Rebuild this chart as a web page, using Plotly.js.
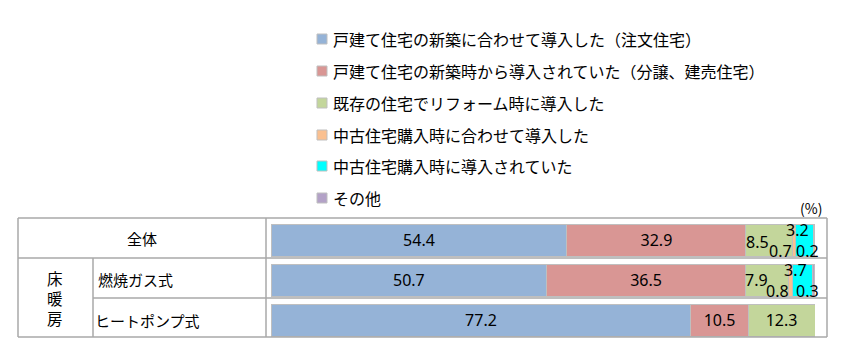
<!DOCTYPE html>
<html><head><meta charset="utf-8">
<script src="https://cdn.plot.ly/plotly-3.0.1.min.js"></script>
<style>body{margin:0;background:#fff}</style></head>
<body><div id="chart" style="width:850px;height:355px"></div>
<script>
// ---- data ----
const categories = ['全体', '燃焼ガス式', 'ヒートポンプ式'];
const seriesNames = [
  '戸建て住宅の新築に合わせて導入した（注文住宅）',
  '戸建て住宅の新築時から導入されていた（分譲、建売住宅）',
  '既存の住宅でリフォーム時に導入した',
  '中古住宅購入時に合わせて導入した',
  '中古住宅購入時に導入されていた',
  'その他'
];
const newBuildCustom   = [54.4, 50.7, 77.2];
const newBuildForSale  = [32.9, 36.5, 10.5];
const reform           = [8.5, 7.9, 12.3];
const usedAtPurchase   = [0.7, 0.8, null];
const usedPreinstalled = [3.2, 3.7, null];
const other            = [0.2, 0.3, null];
const groupHeader = '床<br>暖<br>房';
const unitLabel = '(%)';

// ---- styles ----
const colors = ['#95B3D7', '#D99694', '#C3D69B', '#FAC090', '#00FFFF', '#B3A2C7'];
const series = [newBuildCustom, newBuildForSale, reform, usedAtPurchase, usedPreinstalled, other];
const W = 850, H = 355;
const px = p => p / W;
const py = p => 1 - p / H;
const jp = '"Noto Sans CJK JP", "Noto Sans", sans-serif';
const num = '"Noto Sans", "Liberation Sans", sans-serif';
const gridC = '#A9A9A9';

const traces = series.map((vals, s) => ({
  type: 'bar', orientation: 'h', name: seriesNames[s],
  y: categories, x: vals,
  marker: { color: colors[s], line: { color: '#BFBFBF', width: 1 } },
  text: vals.map(v => (v != null && v >= 10) ? v.toFixed(1) : ''),
  textposition: 'inside', insidetextanchor: 'middle', textangle: 0,
  insidetextfont: { family: num, size: 16, color: '#000' },
  hoverinfo: 'x+name', showlegend: false
}));

const annotations = [];
const shapes = [];

// small-value labels (placed beside their segments)
const place = {
  2: { anchor: 'left',   at: 'start',  dx: 0,  dy: [-2, 0] },
  3: { anchor: 'right',  at: 'end',    dx: -4, dy: [-11, -11] },
  4: { anchor: 'center', at: 'center', dx: -7, dy: [10, 10] },
  5: { anchor: 'center', at: 'center', dx: -6, dy: [-11, -11] }
};
categories.forEach((c, r) => {
  let cum = 0;
  series.forEach((vals, s) => {
    const v = vals[r];
    if (v == null) return;
    const start = cum, end = cum + v;
    cum = end;
    if (v >= 10) return;
    const p = place[s];
    const xv = p.at === 'start' ? start : p.at === 'end' ? end : (start + end) / 2;
    annotations.push({
      x: xv, y: c, xref: 'x', yref: 'y', text: v.toFixed(1), showarrow: false,
      xanchor: p.anchor, yanchor: 'middle', xshift: p.dx, yshift: p.dy[r] || 0,
      borderpad: 0, borderwidth: 0,
      font: { family: num, size: 16, color: '#000' }
    });
  });
});

// legend (manual, to match spacing)
const legendY = [39, 71, 103, 135, 166, 198];
seriesNames.forEach((n, s) => {
  const yc = legendY[s];
  shapes.push({ type: 'rect', xref: 'paper', yref: 'paper',
    x0: px(317), x1: px(327), y0: py(yc - 5), y1: py(yc + 5),
    fillcolor: colors[s], line: { color: '#BFBFBF', width: 1 } });
  annotations.push({ xref: 'paper', yref: 'paper', x: px(331), y: py(yc),
    xanchor: 'left', yanchor: 'middle', showarrow: false, text: n,
    font: { family: jp, size: 16, color: '#000' } });
});

// table frame
const L = 18, R = 827, T = 218, B = 337, C1 = 93, C2 = 266;
const hl = (x0, x1, y) => shapes.push({ type: 'line', xref: 'paper', yref: 'paper',
  x0: px(x0), x1: px(x1), y0: py(y), y1: py(y), line: { color: gridC, width: 1.5 } });
const vl = (x, y0, y1) => shapes.push({ type: 'line', xref: 'paper', yref: 'paper',
  x0: px(x), x1: px(x), y0: py(y0), y1: py(y1), line: { color: gridC, width: 1.5 } });
hl(L, R, T); hl(L, R, 258); hl(C1, R, 298); hl(L, R, B);
vl(L, T, B); vl(R, T, B); vl(C1, 258, B); vl(C2, T, B);

// row headers
annotations.push({ xref: 'paper', yref: 'paper', x: px((L + C2) / 2), y: py(238),
  text: categories[0], showarrow: false, xanchor: 'center', yanchor: 'middle',
  font: { family: jp, size: 15, color: '#000' } });
annotations.push({ xref: 'paper', yref: 'paper', x: px(55), y: py(298),
  text: groupHeader, showarrow: false, xanchor: 'center', yanchor: 'middle',
  font: { family: jp, size: 15.5, color: '#000' } });
annotations.push({ xref: 'paper', yref: 'paper', x: px(96), y: py(279),
  text: categories[1], showarrow: false, xanchor: 'left', yanchor: 'middle',
  font: { family: jp, size: 15, color: '#000' } });
annotations.push({ xref: 'paper', yref: 'paper', x: px(93), y: py(320),
  text: categories[2], showarrow: false, xanchor: 'left', yanchor: 'middle',
  font: { family: jp, size: 15, color: '#000' } });
annotations.push({ xref: 'paper', yref: 'paper', x: px(824), y: py(208),
  text: unitLabel, showarrow: false, xanchor: 'right', yanchor: 'middle',
  font: { family: jp, size: 14, color: '#000' } });

const layout = {
  width: W, height: H, margin: { l: 0, r: 0, t: 0, b: 0 },
  paper_bgcolor: '#fff', plot_bgcolor: 'rgba(0,0,0,0)',
  barmode: 'stack', bargap: 0.2, showlegend: false,
  xaxis: { domain: [px(271), px(815)], range: [0, 100], visible: false, fixedrange: true },
  yaxis: { domain: [py(340), py(220)], range: [2.5, -0.5], type: 'category',
           categoryorder: 'array', categoryarray: categories, visible: false, fixedrange: true },
  shapes: shapes, annotations: annotations
};
Plotly.newPlot('chart', traces, layout, { displayModeBar: false, staticPlot: true });
</script></body></html>
